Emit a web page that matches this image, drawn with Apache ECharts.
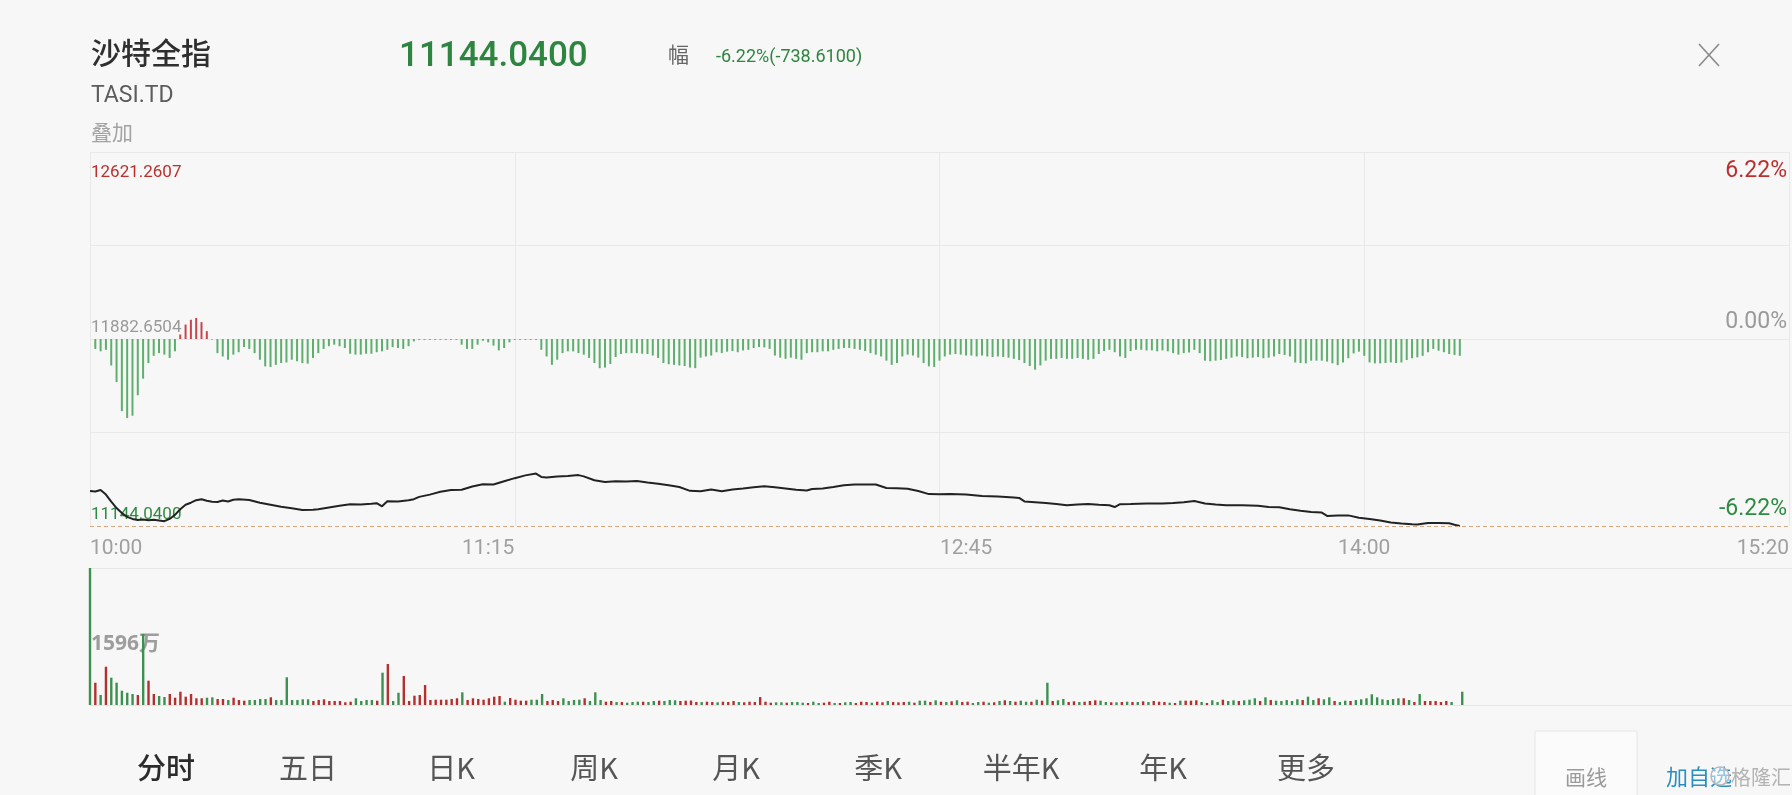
<!DOCTYPE html>
<html>
<head>
<meta charset="utf-8">
<script src="https://cdn.jsdelivr.net/npm/echarts@6/dist/echarts.min.js"></script>
<style>
html,body{margin:0;padding:0;background:#f7f7f7;}
#chart{width:1792px;height:795px;}
</style>
</head>
<body>
<div id="chart"></div>
<script>
// ---------------- data ----------------
const titleName = '沙特全指';
const titleCode = 'TASI.TD';
const overlayText = '叠加';
const lastPriceText = '11144.0400';
const changeLabel = '幅';
const changeText = '-6.22%(-738.6100)';
const tabLabels = ['分时', '五日', '日K', '周K', '月K', '季K', '半年K', '年K', '更多'];

const priceMin = 11144.04;
const priceMid = 11882.6504;   // previous close
const priceMax = 12621.2607;
const pctMin = -6.22, pctMax = 6.22;

const tickMinutes = [0, 75, 165, 240, 320];
const tickLabels = ['10:00', '11:15', '12:45', '14:00', '15:20'];

// price line (minute index from 10:00, price)
const priceMinutes = [0,1,2,3,4,5,6,7,8,9,10,11,12,13,14,15,16,17,18,19,20,21,22,23,24,25,26,27,28,30,32,34,36,38,40,42,43,45,47,49,51,53,54,55,56,58,60,61,62,64,66,68,70,72,74,76,78,80,82,84,85,86,88,90,92,93,95,97,99,101,103,105,107,109,111,113,115,117,119,121,123,125,127,129,131,133,135,136,138,140,142,144,146,148,150,152,154,156,158,160,162,165,168,171,174,175,176,178,180,182,184,186,188,190,192,193,194,196,199,202,204,206,208,210,212,214,217,220,222,224,226,228,230,232,233,235,237,239,241,243,245,247,249,250,252,254,256,257,258];
const priceValues = [11282,11280,11286,11268,11240,11215,11195,11180,11172,11168,11170,11167,11169,11166,11163,11172,11188,11210,11228,11236,11246,11250,11244,11240,11239,11245,11241,11248,11250,11247,11236,11228,11220,11214,11207,11208,11210,11217,11224,11230,11229,11232,11234,11222,11242,11241,11246,11250,11259,11268,11279,11286,11287,11300,11309,11308,11321,11333,11344,11351,11338,11336,11340,11342,11345,11340,11325,11318,11321,11320,11322,11316,11311,11305,11298,11283,11281,11288,11281,11288,11292,11297,11301,11297,11292,11287,11284,11290,11292,11298,11305,11308,11308,11308,11294,11293,11291,11282,11270,11269,11270,11268,11263,11261,11257,11255,11241,11238,11235,11231,11226,11229,11231,11228,11226,11219,11230,11231,11233,11233,11235,11238,11243,11233,11229,11226,11226,11224,11219,11218,11210,11204,11199,11197,11184,11186,11186,11177,11172,11166,11158,11154,11151,11150,11156,11156,11155,11149,11144.04];

// per-minute change bars (%), index 0 = 10:00
const changePct = [
 0,-0.33,-0.41,-0.36,-0.88,-1.43,-2.40,-2.63,-2.55,-1.87,
 -1.32,-0.80,-0.56,-0.47,-0.52,-0.63,-0.41,0.15,0.48,0.64,
 0.70,0.56,0.26,-0.02,-0.47,-0.58,-0.69,-0.52,-0.44,-0.27,
 -0.33,-0.47,-0.69,-0.91,-0.93,-0.86,-0.80,-0.78,-0.69,-0.74,
 -0.80,-0.82,-0.63,-0.47,-0.33,-0.24,-0.19,-0.24,-0.30,-0.49,
 -0.52,-0.52,-0.49,-0.49,-0.44,-0.41,-0.36,-0.27,-0.30,-0.33,
 -0.24,-0.08,-0.03,-0.03,-0.03,-0.03,-0.03,-0.03,-0.03,-0.03,
 -0.19,-0.33,-0.33,-0.19,-0.06,-0.11,-0.22,-0.38,-0.30,-0.11,
 -0.03,-0.03,-0.03,-0.03,-0.03,-0.36,-0.58,-0.86,-0.69,-0.47,
 -0.41,-0.41,-0.47,-0.52,-0.63,-0.80,-0.97,-0.95,-0.83,-0.60,
 -0.50,-0.47,-0.47,-0.47,-0.49,-0.50,-0.55,-0.63,-0.80,-0.84,
 -0.86,-0.88,-0.90,-0.95,-0.97,-0.62,-0.58,-0.55,-0.44,-0.47,
 -0.42,-0.40,-0.44,-0.38,-0.36,-0.30,-0.27,-0.28,-0.33,-0.55,
 -0.62,-0.66,-0.62,-0.66,-0.69,-0.47,-0.44,-0.44,-0.41,-0.41,
 -0.36,-0.33,-0.30,-0.30,-0.33,-0.36,-0.40,-0.47,-0.52,-0.58,
 -0.72,-0.86,-0.80,-0.58,-0.52,-0.55,-0.62,-0.80,-0.91,-0.93,
 -0.72,-0.58,-0.52,-0.50,-0.52,-0.55,-0.55,-0.58,-0.55,-0.58,
 -0.60,-0.58,-0.60,-0.62,-0.66,-0.70,-0.80,-0.90,-1.02,-0.88,
 -0.72,-0.66,-0.66,-0.63,-0.66,-0.66,-0.63,-0.66,-0.69,-0.66,
 -0.50,-0.40,-0.36,-0.44,-0.58,-0.63,-0.40,-0.36,-0.36,-0.38,
 -0.38,-0.41,-0.38,-0.41,-0.47,-0.52,-0.47,-0.45,-0.36,-0.47,
 -0.72,-0.74,-0.72,-0.70,-0.66,-0.62,-0.58,-0.60,-0.64,-0.62,
 -0.60,-0.64,-0.62,-0.58,-0.50,-0.53,-0.58,-0.78,-0.80,-0.81,
 -0.72,-0.72,-0.72,-0.75,-0.81,-0.87,-0.78,-0.64,-0.48,-0.42,
 -0.56,-0.78,-0.81,-0.81,-0.80,-0.78,-0.80,-0.78,-0.70,-0.64,
 -0.61,-0.56,-0.44,-0.33,-0.39,-0.44,-0.50,-0.53,-0.56
];

// per-minute volume (万), index 0 = opening auction
const volume = [
 9850,501,225,861,614,501,321,276,247,225,
 1596,546,247,202,180,247,164,299,187,247,
 151,151,164,173,135,135,112,164,112,97,
 112,112,135,135,173,112,112,623,112,112,
 128,128,90,112,128,90,90,90,61,74,
 151,90,112,112,97,726,922,90,276,652,
 90,209,225,450,112,119,119,119,135,151,
 285,112,151,135,119,151,187,202,74,157,
 119,97,97,119,119,247,90,112,90,151,
 90,112,119,151,90,285,112,74,90,67,
 67,52,67,74,74,67,90,97,90,112,
 106,90,97,101,67,67,74,67,61,74,
 67,90,67,61,74,67,180,74,52,61,
 61,52,67,67,52,45,74,45,52,74,
 45,45,61,67,45,74,67,52,74,61,
 90,67,61,67,74,52,97,97,67,106,
 74,67,83,106,67,74,45,67,74,52,
 61,90,106,90,74,97,74,74,119,97,
 501,90,106,135,67,83,67,74,90,106,
 97,67,61,61,67,74,67,67,83,67,
 90,74,67,52,45,97,97,97,106,67,
 45,106,67,119,90,106,90,106,119,151,
 90,173,112,97,90,112,90,128,112,187,
 112,151,128,173,90,67,97,90,112,128,
 151,241,173,128,112,135,151,151,112,67,
 247,90,90,90,67,90,67,0,299
];
// r = up minute (red), g = down minute (green)
const volumeDir = ("grgrgggggr grrggrrrrr rrggrrgrrr ggggrggggg ggrrrrrrrr ggggrgrggr rrrrrrrrrr grrrrrrrgr rrrgggrrrg gggrgggrrg " +
  "rgggrggrgg grrrrgrrgr rrgrrrrrrg grgggrggrr grggrrrgrr grrrgrggrg rgrgrrggrg rgrgrggrgr grggrrgrrr ggrgrgrgrg " +
  "rrrgrgrrrg rggrggrggg rgrgggggrg grggrggrgg gggggggrgr grrrrrggg").replace(/ /g, '').split('');

const volumeLabelValue = 1596;
const volumeAxisMax = 3080;

// ---------------- style ----------------
const RED = '#b8312f', GREEN = '#2f8a43', GRAY = '#9a9a9a';
const BAR_RED = '#c9434b', BAR_GREEN = '#5eae6e';
const VOL_RED = '#b3302e', VOL_GREEN = '#3d9150';
const NUM_FONT = 'Roboto, "Noto Sans", sans-serif';
const CJK_FONT = '"Noto Sans CJK SC", "Noto Sans", sans-serif';

const chart = echarts.init(document.getElementById('chart'), null, {renderer: 'canvas'});

const priceData = priceMinutes.map((m, i) => [m, priceValues[i]]);
const changeData = changePct.map((v, i) => ({
  value: [i, v],
  itemStyle: {color: v >= 0 ? BAR_RED : BAR_GREEN}
}));
const volumeData = volume.map((v, i) => ({
  value: [i, v],
  itemStyle: {color: volumeDir[i] === 'r' ? VOL_RED : VOL_GREEN}
}));

const tabCenters = [166, 308, 451, 594, 736, 878, 1021, 1163, 1306];
const graphics = [
  {type: 'text', x: 91, y: 53, style: {text: titleName, font: '500 30px ' + CJK_FONT, fill: '#2f2f2f', verticalAlign: 'middle'}},
  {type: 'text', x: 91, y: 96, style: {text: titleCode, font: '23px ' + NUM_FONT, fill: '#5c5c5c', verticalAlign: 'middle'}},
  {type: 'text', x: 91, y: 132, style: {text: overlayText, font: '21px ' + CJK_FONT, fill: '#a3a3a3', verticalAlign: 'middle'}},
  {type: 'text', x: 399, y: 57, style: {text: lastPriceText, font: '500 35px ' + NUM_FONT, fill: '#2e8540', verticalAlign: 'middle'}},
  {type: 'text', x: 668, y: 54, style: {text: changeLabel, font: '21px ' + CJK_FONT, fill: '#666', verticalAlign: 'middle'}},
  {type: 'text', x: 716, y: 57, style: {text: changeText, font: '18px ' + NUM_FONT, fill: '#2e8540', verticalAlign: 'middle'}},
  {type: 'line', shape: {x1: 1699, y1: 44, x2: 1719, y2: 66}, style: {stroke: '#8a8a8a', lineWidth: 1.6}},
  {type: 'line', shape: {x1: 1719, y1: 44, x2: 1699, y2: 66}, style: {stroke: '#8a8a8a', lineWidth: 1.6}},
  {type: 'rect', shape: {x: 1535, y: 731, width: 102, height: 70}, style: {fill: '#fbfbfb', stroke: '#e6e6e6', lineWidth: 1}},
  {type: 'text', x: 1586, y: 777, style: {text: '画线', font: '21px ' + CJK_FONT, fill: '#9a9a9a', align: 'center', verticalAlign: 'middle'}},
  {type: 'text', x: 1666, y: 777, style: {text: '加自选', font: '22px ' + CJK_FONT, fill: '#2a8fc0', verticalAlign: 'middle'}},
  {type: 'circle', shape: {cx: 1720, cy: 776, r: 9}, style: {fill: 'rgba(255,255,255,0.5)', stroke: '#b8b8b8', lineWidth: 1.5}},
  {type: 'text', x: 1731, y: 777, style: {text: '格隆汇', font: '20px ' + CJK_FONT, fill: '#b3b3b3', verticalAlign: 'middle'}}
];
tabLabels.forEach((t, i) => {
  graphics.push({type: 'text', x: tabCenters[i], y: 768, style: {
    text: t, font: (i === 0 ? '500 ' : '') + '29px ' + CJK_FONT,
    fill: i === 0 ? '#2b2b2b' : '#555', align: 'center', verticalAlign: 'middle'}});
});

const option = {
  backgroundColor: '#f7f7f7',
  animation: false,
  grid: [
    {left: 90, right: 0, top: 152, bottom: 269},
    {left: 90, right: 0, top: 568, bottom: 90}
  ],
  xAxis: [
    {
      type: 'value', gridIndex: 0, min: 0, max: 320, interval: 80,
      axisLine: {show: false}, axisTick: {show: false},
      splitLine: {show: true, lineStyle: {color: '#e8e8e8', width: 1}},
      axisLabel: {
        customValues: tickMinutes,
        formatter: v => tickLabels[tickMinutes.indexOf(v)] || '',
        color: '#a0a0a0', fontSize: 21, fontFamily: NUM_FONT, margin: 12,
        alignMinLabel: 'left', alignMaxLabel: 'right'
      }
    },
    {
      type: 'value', gridIndex: 1, min: 0, max: 320,
      axisLine: {show: true, lineStyle: {color: '#e6e6e6'}}, axisTick: {show: false},
      splitLine: {show: false}, axisLabel: {show: false}
    }
  ],
  yAxis: [
    { // price, bottom-aligned labels
      type: 'value', gridIndex: 0, position: 'left', min: priceMin, max: priceMax,
      axisLine: {show: false}, axisTick: {show: false}, splitLine: {show: false},
      axisLabel: {
        inside: true, margin: 1, customValues: [priceMin, priceMid],
        verticalAlign: 'bottom', padding: [0, 0, 3, 0],
        fontSize: 17, fontFamily: NUM_FONT,
        formatter: v => Math.abs(v - priceMid) < 0.01 ? '{m|' + priceMid.toFixed(4) + '}' : '{l|' + priceMin.toFixed(4) + '}',
        rich: {m: {color: GRAY, fontSize: 17, fontFamily: NUM_FONT}, l: {color: GREEN, fontSize: 17, fontFamily: NUM_FONT}}
      }
    },
    { // price, top label
      type: 'value', gridIndex: 0, position: 'left', min: priceMin, max: priceMax,
      axisLine: {show: false}, axisTick: {show: false}, splitLine: {show: false},
      axisLabel: {
        inside: true, margin: 1, customValues: [priceMax],
        verticalAlign: 'top', padding: [12, 0, 0, 0],
        fontSize: 17, fontFamily: NUM_FONT, color: RED,
        formatter: v => priceMax.toFixed(4)
      }
    },
    { // percent, gridlines + bottom-aligned labels
      type: 'value', gridIndex: 0, position: 'right', min: pctMin, max: pctMax, interval: 3.11,
      axisLine: {show: false}, axisTick: {show: false},
      splitLine: {show: true, showMinLine: false, lineStyle: {color: '#e8e8e8', width: 1}},
      axisLabel: {
        inside: true, margin: 2, customValues: [pctMin, 0],
        verticalAlign: 'bottom', padding: [0, 0, 5, 0],
        fontSize: 23, fontFamily: NUM_FONT,
        formatter: v => Math.abs(v) < 0.001 ? '{z|0.00%}' : '{n|' + pctMin.toFixed(2) + '%}',
        rich: {z: {color: GRAY, fontSize: 23, fontFamily: NUM_FONT}, n: {color: GREEN, fontSize: 23, fontFamily: NUM_FONT}}
      }
    },
    { // percent, top label
      type: 'value', gridIndex: 0, position: 'right', min: pctMin, max: pctMax,
      axisLine: {show: false}, axisTick: {show: false}, splitLine: {show: false},
      axisLabel: {
        inside: true, margin: 2, customValues: [pctMax],
        verticalAlign: 'top', padding: [8, 0, 0, 0],
        fontSize: 23, fontFamily: NUM_FONT, color: RED,
        formatter: v => pctMax.toFixed(2) + '%'
      }
    },
    { // volume
      type: 'value', gridIndex: 1, position: 'left', min: 0, max: volumeAxisMax, interval: volumeAxisMax,
      axisLine: {show: false}, axisTick: {show: false},
      splitLine: {show: true, lineStyle: {color: '#e6e6e6', width: 1}},
      axisLabel: {
        inside: true, margin: 1, customValues: [volumeLabelValue],
        verticalAlign: 'top', fontSize: 21, fontWeight: 'bold', fontFamily: '"Noto Sans", ' + CJK_FONT,
        color: '#9d9d9d', formatter: v => volumeLabelValue + '万'
      }
    }
  ],
  series: [
    {
      name: 'change', type: 'bar', xAxisIndex: 0, yAxisIndex: 2,
      barWidth: 2, data: changeData, silent: true, clip: true
    },
    {
      name: 'price', type: 'line', xAxisIndex: 0, yAxisIndex: 0,
      data: priceData, showSymbol: false, symbol: 'none', silent: true,
      lineStyle: {color: '#222', width: 2},
      markLine: {
        silent: true, symbol: 'none', label: {show: false},
        lineStyle: {type: [4, 3], color: '#d8a981', width: 1},
        data: [{yAxis: priceValues[priceValues.length - 1]}]
      }
    },
    {
      name: 'volume', type: 'bar', xAxisIndex: 1, yAxisIndex: 4,
      barWidth: 2.4, data: volumeData, silent: true, clip: true
    }
  ],
  graphic: graphics
};
chart.setOption(option);
</script>
</body>
</html>
